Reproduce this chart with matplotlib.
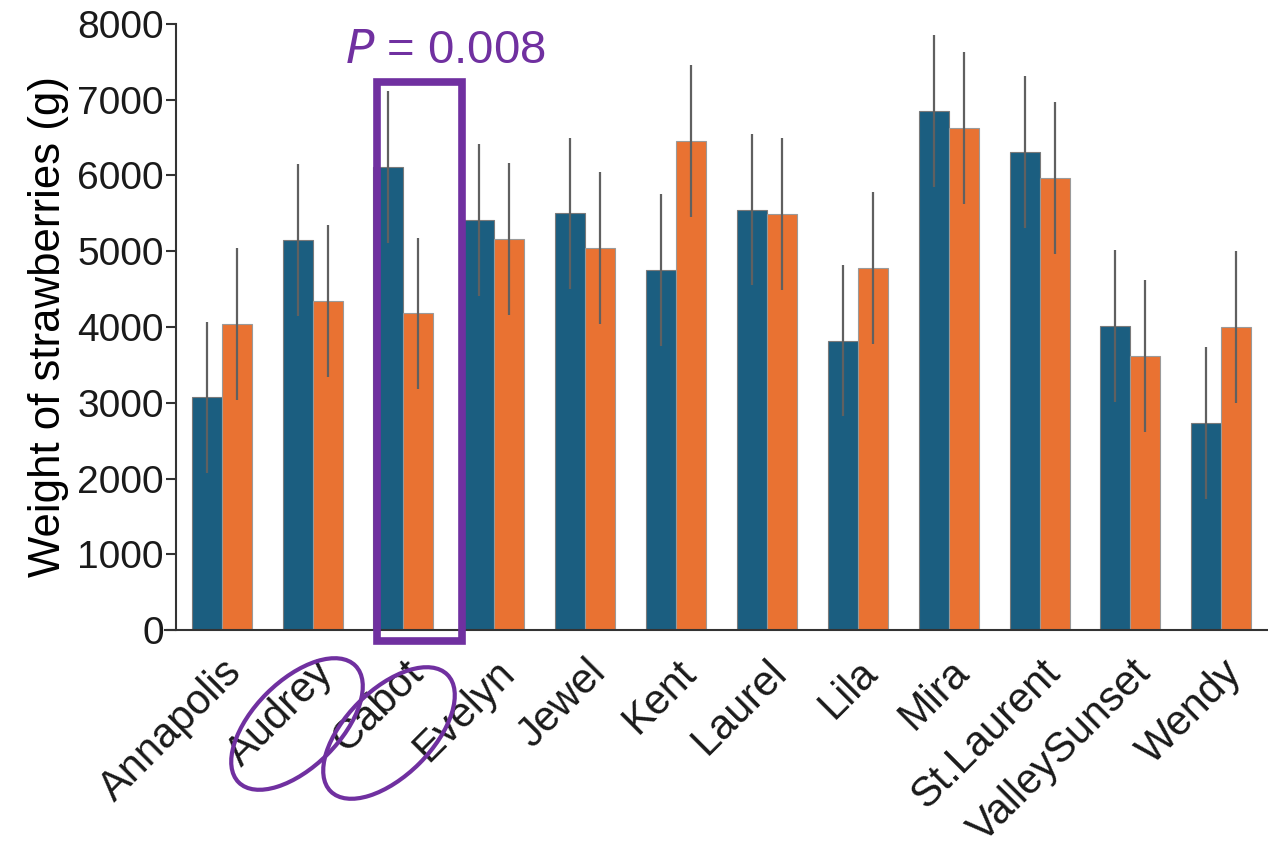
import numpy as np
from matplotlib import pyplot as plt
from matplotlib.patches import Ellipse, Rectangle

plt.rcParams["font.family"] = ["Liberation Sans", "DejaVu Sans"]
plt.rcParams["text.color"] = "#1a1a1a"
plt.rcParams["xtick.labelcolor"] = "#1a1a1a"
plt.rcParams["ytick.labelcolor"] = "#1a1a1a"

# data
varieties = ["Annapolis", "Audrey", "Cabot", "Evelyn", "Jewel", "Kent", "Laurel",
             "Lila", "Mira", "St.Laurent", "ValleySunset", "Wendy"]
weight_a = [3070, 5150, 6110, 5410, 5500, 4750, 5550, 3820, 6850, 6310, 4010, 2730]
weight_b = [4040, 4340, 4180, 5160, 5040, 6455, 5490, 4780, 6630, 5970, 3615, 4000]
err_a = [1000] * 12
err_b = [1000] * 12

blue = "#1b5e80"
orange = "#e97232"
purple = "#7030a0"

fig = plt.figure(figsize=(12.68, 8.5), dpi=100)
ax = fig.add_axes([0.139, 0.2588, 0.860, 0.713])

x = np.arange(len(varieties))
w = 0.33
ax.bar(x - w / 2, weight_a, w, color=blue, edgecolor="#7a7a7a", linewidth=0.8)
ax.bar(x + w / 2, weight_b, w, color=orange, edgecolor="#9a9a9a", linewidth=0.8)
ax.errorbar(x - w / 2, weight_a, yerr=err_a, fmt="none", ecolor="#606060", elinewidth=1.6, capsize=0)
ax.errorbar(x + w / 2, weight_b, yerr=err_b, fmt="none", ecolor="#606060", elinewidth=1.6, capsize=0)

ax.set_xlim(-0.5, 11.5)
ax.set_ylim(0, 8000)
ax.set_yticks(range(0, 8001, 1000))
ax.set_xticks(x)
ax.set_xticklabels(varieties, rotation=45, ha="right", rotation_mode="anchor", fontsize=30)
ax.tick_params(axis="x", length=0, pad=16)
ax.tick_params(axis="y", labelsize=28, length=7, width=1.5, color="#333333", pad=2)
ax.set_ylabel("Weight of strawberries (g)", fontsize=31.5, labelpad=6)

for side in ["top", "right"]:
    ax.spines[side].set_visible(False)
ax.spines["left"].set_color("#333333")
ax.spines["left"].set_linewidth(1.5)
ax.spines["bottom"].set_color("#333333")
ax.spines["bottom"].set_linewidth(1.5)
ax.spines["bottom"].set_bounds(-0.62, 11.5)

# highlight for Cabot
ax.add_patch(Rectangle((1.714, -145), 0.926, 7380, fill=False, edgecolor=purple,
                       linewidth=5.5, clip_on=False, zorder=5))
ax.text(2.46, 7640, r"$\it{P}$ = 0.008", color=purple, fontsize=34,
        ha="center", va="center", clip_on=False)

# circled tick labels (inches on the figure)
for cx, cy in [(2.97, 1.26), (3.89, 1.17)]:
    fig.add_artist(Ellipse((cx, cy), 1.65, 0.86, angle=45, fill=False,
                           edgecolor=purple, linewidth=3, transform=fig.dpi_scale_trans))

fig.savefig("out.png", dpi=100)
